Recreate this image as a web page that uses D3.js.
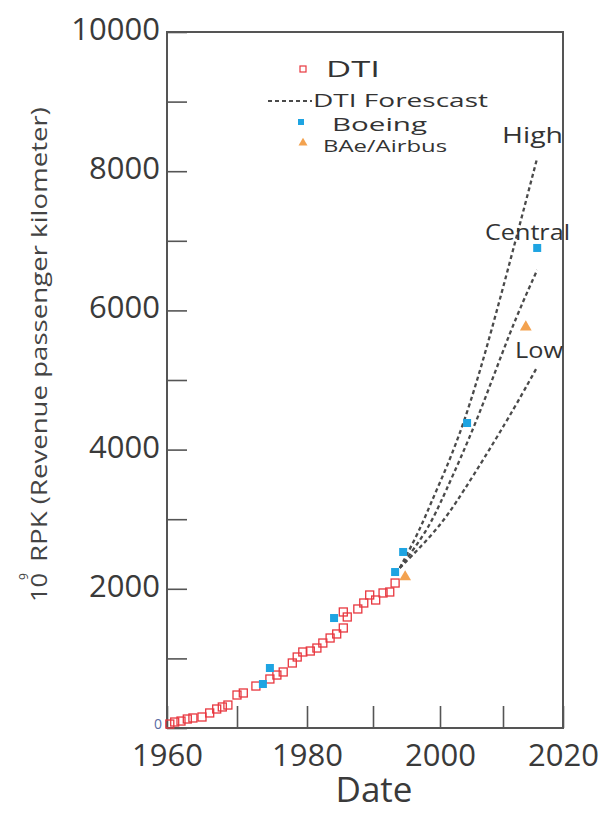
<!DOCTYPE html>
<html>
<head>
<meta charset="utf-8">
<script src="https://cdn.jsdelivr.net/npm/d3@7"></script>
<style>
  body { margin: 0; background: #fff; }
  text { font-family: "Open Sans", sans-serif; }
</style>
</head>
<body>
<div id="chart"></div>
<script>
// Values
var dtiYears = [1960.4, 1961.1, 1962.0, 1962.9, 1963.7, 1965.0, 1966.1, 1967.1, 1967.9, 1968.7,
  1970.0, 1970.9, 1972.7, 1974.7, 1975.7, 1976.6, 1977.9, 1978.6, 1979.4, 1980.5,
  1981.5, 1982.4, 1983.5, 1984.5, 1985.5, 1986.1, 1985.5, 1987.7, 1988.6, 1989.5,
  1990.4, 1991.5, 1992.5, 1993.3];
var dtiValues = [57, 86, 100, 129, 144, 158, 216, 273, 302, 330,
  474, 503, 603, 704, 761, 805, 934, 1020, 1092, 1106,
  1149, 1221, 1293, 1351, 1437, 1595, 1667, 1710, 1796, 1911,
  1839, 1940, 1954, 2083];

var boeingYears = [1973.7, 1974.7, 1984.1, 1993.3, 1994.5, 2004.3, 2015.7];
var boeingValues = [632, 862, 1580, 2241, 2529, 4382, 6897];

var airbusYears = [1994.8, 2013.8];
var airbusValues = [2170, 5761];

var highYears = [1994, 1997.0, 1999.0, 2004.4, 2012.0, 2015.7];
var highValues = [2300, 2845, 3319, 4425, 6968, 8190];
var centralYears = [1994, 1998.2, 2000.5, 2006.0, 2011.2, 2015.7];
var centralValues = [2300, 2845, 3319, 4425, 5718, 6580];
var lowYears = [1994, 1999.6, 2003.2, 2010.8, 2015.7];
var lowValues = [2300, 2845, 3319, 4425, 5187];

var xTicks = [1960, 1970, 1980, 1990, 2000, 2010, 2020];
var yTicks = d3.range(0, 10001, 1000);
var legendNames = ['DTI', 'DTI Forescast', 'Boeing', 'BAe/Airbus'];
var forecastNames = ['High', 'Central', 'Low'];

var svgWidth = 606;
var svgHeight = 815;

var svg = d3.select('#chart')
  .append('svg')
  .attr('width', svgWidth)
  .attr('height', svgHeight);

// the scanned axis is not quite even, so the decades get their own stops
var xScale = d3.scaleLinear()
  .domain(xTicks)
  .range([167, 237, 307, 373, 440, 503, 563]);

var yScale = d3.scaleLinear()
  .domain([0, 10000])
  .range([728, 32]);

var axisColor = '#555';

// y axis, ticks pointing inward
var yAxis = svg.append('g')
  .attr('transform', 'translate(167,0)')
  .call(d3.axisLeft(yScale)
    .tickValues(yTicks)
    .tickSize(-20)
    .tickPadding(7)
    .tickFormat(d => (d > 0 && d % 2000 === 0) ? d : ''));
yAxis.select('.domain').remove();
yAxis.selectAll('line').attr('stroke', axisColor).attr('stroke-width', 1.6);
yAxis.selectAll('text')
  .attr('font-family', 'Open Sans, sans-serif')
  .attr('font-size', 31)
  .attr('fill', '#3a3a3a')
  .attr('dy', '0.24em');

// x axis
var xAxis = svg.append('g')
  .attr('transform', 'translate(0,728)')
  .call(d3.axisBottom(xScale)
    .tickValues(xTicks)
    .tickSize(-22)
    .tickPadding(16)
    .tickFormat(d => d % 20 === 0 ? d : ''));
xAxis.select('.domain').remove();
xAxis.selectAll('line').attr('stroke', axisColor).attr('stroke-width', 1.6);
xAxis.selectAll('text')
  .attr('font-family', 'Open Sans, sans-serif')
  .attr('font-size', 31)
  .attr('fill', '#3a3a3a');

// frame
svg.append('rect')
  .attr('x', xScale(1960))
  .attr('y', yScale(10000))
  .attr('width', xScale(2020) - xScale(1960))
  .attr('height', yScale(0) - yScale(10000))
  .attr('fill', 'none')
  .attr('stroke', axisColor)
  .attr('stroke-width', 2);

// small zero label
svg.append('text')
  .attr('x', xScale(1960) - 5)
  .attr('y', yScale(0) + 1)
  .attr('text-anchor', 'end')
  .attr('font-size', 14)
  .attr('fill', '#5b6ba3')
  .text('0');

// axis titles
svg.append('text')
  .attr('x', 374)
  .attr('y', 802)
  .attr('text-anchor', 'middle')
  .attr('font-size', 35)
  .attr('fill', '#3a3a3a')
  .text('Date');

var yTitle = svg.append('g')
  .attr('transform', 'translate(47,602) rotate(-90)')
  .attr('fill', '#444');
yTitle.append('text')
  .attr('x', 0).attr('y', 0)
  .attr('font-size', 21)
  .attr('textLength', 29).attr('lengthAdjust', 'spacingAndGlyphs')
  .text('10');
yTitle.append('text')
  .attr('x', 22).attr('y', -19)
  .attr('font-size', 12)
  .text('9');
yTitle.append('text')
  .attr('x', 40).attr('y', 0)
  .attr('font-size', 21)
  .attr('textLength', 455).attr('lengthAdjust', 'spacingAndGlyphs')
  .text('RPK (Revenue passenger kilometer)');

// forecast lines
var line = d3.line()
  .x(d => xScale(d[0]))
  .y(d => yScale(d[1]))
  .curve(d3.curveBasis);

[[highYears, highValues], [centralYears, centralValues], [lowYears, lowValues]].forEach(function(s) {
  svg.append('path')
    .datum(d3.zip(s[0], s[1]))
    .attr('d', line)
    .attr('fill', 'none')
    .attr('stroke', '#4a4a4a')
    .attr('stroke-width', 2.3)
    .attr('stroke-dasharray', '4,3');
});

// forecast labels
var labelX = [502, 485, 515];
var labelY = [143, 240, 358];
var labelLen = [61, 85, 48];
svg.selectAll('.flabel')
  .data(forecastNames)
  .enter()
  .append('text')
  .attr('class', 'flabel')
  .attr('x', (d, i) => labelX[i])
  .attr('y', (d, i) => labelY[i])
  .attr('font-size', 22)
  .attr('fill', '#333')
  .attr('textLength', (d, i) => labelLen[i])
  .attr('lengthAdjust', 'spacingAndGlyphs')
  .text(d => d);

// DTI open squares
var sq = 8;
svg.selectAll('.dti')
  .data(d3.zip(dtiYears, dtiValues))
  .enter()
  .append('rect')
  .attr('class', 'dti')
  .attr('x', d => xScale(d[0]) - sq / 2)
  .attr('y', d => yScale(d[1]) - sq / 2)
  .attr('width', sq)
  .attr('height', sq)
  .attr('fill', 'none')
  .attr('stroke', '#e8373f')
  .attr('stroke-width', 1.3);

// Boeing filled squares
svg.selectAll('.boeing')
  .data(d3.zip(boeingYears, boeingValues))
  .enter()
  .append('rect')
  .attr('class', 'boeing')
  .attr('x', d => xScale(d[0]) - 4)
  .attr('y', d => yScale(d[1]) - 4)
  .attr('width', 8)
  .attr('height', 8)
  .attr('fill', '#1ea4e2');

// BAe/Airbus triangles
var tri = d3.symbol().type(d3.symbolTriangle).size(60);
svg.selectAll('.airbus')
  .data(d3.zip(airbusYears, airbusValues))
  .enter()
  .append('path')
  .attr('class', 'airbus')
  .attr('transform', d => `translate(${xScale(d[0])}, ${yScale(d[1])})`)
  .attr('d', tri)
  .attr('fill', '#f3a24f');

// legend
var legX = [326, 313, 332, 323];
var legY = [77, 107, 131, 152];
var legLen = [54, 175, 95, 124];
var legSize = [21, 18, 18, 16];
svg.selectAll('.legtext')
  .data(legendNames)
  .enter()
  .append('text')
  .attr('class', 'legtext')
  .attr('x', (d, i) => legX[i])
  .attr('y', (d, i) => legY[i])
  .attr('font-size', (d, i) => legSize[i])
  .attr('fill', '#333')
  .attr('textLength', (d, i) => legLen[i])
  .attr('lengthAdjust', 'spacingAndGlyphs')
  .text(d => d);

svg.append('rect')
  .attr('x', 300).attr('y', 66).attr('width', 6).attr('height', 6)
  .attr('fill', 'none').attr('stroke', '#e8373f').attr('stroke-width', 1.2);
svg.append('line')
  .attr('x1', 268).attr('x2', 312).attr('y1', 101).attr('y2', 101)
  .attr('stroke', '#4a4a4a').attr('stroke-width', 2).attr('stroke-dasharray', '4,3');
svg.append('rect')
  .attr('x', 298).attr('y', 119).attr('width', 6).attr('height', 6)
  .attr('fill', '#1ea4e2');
svg.append('path')
  .attr('transform', 'translate(303,143)')
  .attr('d', d3.symbol().type(d3.symbolTriangle).size(35))
  .attr('fill', '#f3a24f');
</script>
</body>
</html>
